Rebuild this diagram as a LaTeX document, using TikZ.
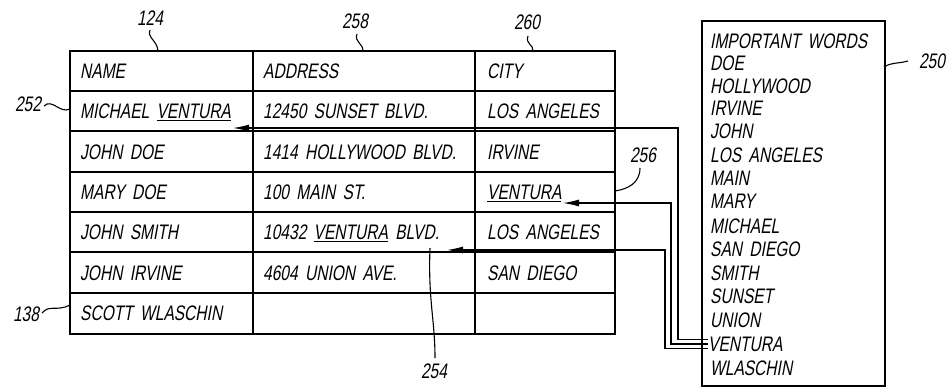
\documentclass[tikz,border=0pt]{standalone}
\usepackage{fontspec}
\newfontfamily\pf{Liberation Sans}[FakeSlant=0.18,FakeStretch=0.74,WordSpace=1.7]
\usetikzlibrary{arrows.meta,calc}
\begin{document}
\begin{tikzpicture}[x=1pt,y=-1pt,
  txt/.style={inner sep=0pt, anchor=west, font={\pf\fontsize{21}{24}\selectfont}, text height=15pt, text depth=0pt},
  lbl/.style={txt, anchor=center},
  grid/.style={line width=1.5pt},
  conn/.style={line width=1.2pt, -{Latex[length=16pt,width=7pt]}},
  lead/.style={line width=1.1pt}]
\useasboundingbox (0,0) rectangle (951,388);
% table grid
\draw[grid] (70,51) rectangle (615,334);
\foreach \x in {253,475} \draw[grid] (\x,51) -- (\x,334);
\foreach \y in {91,131,172,212,252,293} \draw[grid] (70,\y) -- (615,\y);
% cells
\node[txt] (c11) at (80,71) {NAME};
\node[txt] (c12) at (263,71) {ADDRESS};
\node[txt] (c13) at (487,71) {CITY};
\node[txt] (c21) at (80,111) {MICHAEL \underline{VENTURA}};
\node[txt] (c22) at (263,111) {12450 SUNSET BLVD.};
\node[txt] (c23) at (487,111) {LOS ANGELES};
\node[txt] (c31) at (80,152) {JOHN DOE};
\node[txt] (c32) at (263,152) {1414 HOLLYWOOD BLVD.};
\node[txt] (c33) at (487,152) {IRVINE};
\node[txt] (c41) at (80,192) {MARY DOE};
\node[txt] (c42) at (263,192) {100 MAIN ST.};
\node[txt] (c43) at (487,192) {\underline{VENTURA}};
\node[txt] (c51) at (80,232) {JOHN SMITH};
\node[txt] (c52) at (263,232) {10432 \underline{VENTURA} BLVD.};
\node[txt] (c53) at (487,232) {LOS ANGELES};
\node[txt] (c61) at (80,273) {JOHN IRVINE};
\node[txt] (c62) at (263,273) {4604 UNION AVE.};
\node[txt] (c63) at (487,273) {SAN DIEGO};
\node[txt] (c71) at (80,313) {SCOTT WLASCHIN};
% important words box
\node[draw, line width=1.5pt, inner sep=0pt, minimum width=183pt, minimum height=365pt, anchor=north west] (box) at (701,20) {};
\node[txt] (w0) at (710,41) {IMPORTANT WORDS};
\node[txt] (w1) at (710,63) {DOE};
\node[txt] (w2) at (710,86) {HOLLYWOOD};
\node[txt] (w3) at (710,108) {IRVINE};
\node[txt] (w4) at (710,131) {JOHN};
\node[txt] (w5) at (710,155) {LOS ANGELES};
\node[txt] (w6) at (710,178) {MAIN};
\node[txt] (w7) at (710,201) {MARY};
\node[txt] (w8) at (710,226) {MICHAEL};
\node[txt] (w9) at (710,249) {SAN DIEGO};
\node[txt] (w10) at (710,273) {SMITH};
\node[txt] (w11) at (710,296) {SUNSET};
\node[txt] (w12) at (710,320) {UNION};
\node[txt] (wv) at (708,344) {VENTURA};
\node[txt] (w14) at (710,368) {WLASCHIN};
% connector tips
\coordinate (tM) at (233,128);
\coordinate (tC) at (563,203);
\coordinate (tB) at (447,250);
\draw[conn] ([yshift=4.5pt]wv.west) -| (678,128) -- (tM);
\draw[conn] (wv.west) -| (671,203) -- (tC);
\draw[conn] ([yshift=-4.5pt]wv.west) -| (665,250) -- (tB);
% reference labels
\node[lbl] (l124) at (150,18) {124};
\node[lbl] (l258) at (355,21) {258};
\node[lbl] (l260) at (527,22) {260};
\node[lbl] (l252) at (28,104) {252};
\node[lbl] (l138) at (26,314) {138};
\node[lbl] (l250) at (932,61) {250};
\node[lbl] (l256) at (643,155) {256};
\node[lbl] (l254) at (434,371) {254};
\draw[lead] (150,30) .. controls (147,38) and (157,40) .. (158,51);
\draw[lead] (357,34) .. controls (354,42) and (363,43) .. (363,51);
\draw[lead] (528,36) .. controls (525,44) and (534,45) .. (533,51);
\draw[lead] (44,106) .. controls (52,98) and (60,114) .. (70,109);
\draw[lead] (42,313) .. controls (50,304) and (56,312) .. (70,305);
\draw[lead] (884,67) .. controls (892,62) and (897,64) .. (908,61);
\draw[lead] (640,168) .. controls (640,183) and (628,189) .. (615,191);
\draw[lead] (435,358) .. controls (435,320) and (428,300) .. (430,248);
\end{tikzpicture}
\end{document}
